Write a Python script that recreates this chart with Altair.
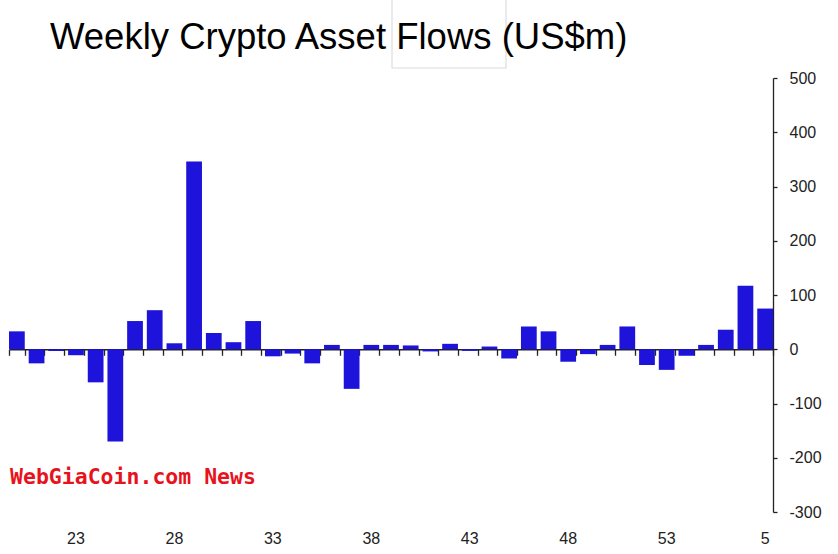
import altair as alt
import pandas as pd

weeks = [str(w) for w in range(20, 54)] + ["1", "2", "3", "4", "5"]
flows = [33, -26, -3, -11, -61, -170, 52, 72, 11, 346, 30, 13, 52, -13, -8, -26, 8, -73, 8, 8,
         7, -4, 10, -3, 5, -17, 42, 33, -23, -9, 8, 42, -29, -38, -12, 8, 36, 117, 75]
tick_labels = ["23", "28", "33", "38", "43", "48", "53", "5"]
y_ticks = [-300, -200, -100, 0, 100, 200, 300, 400, 500]
title_text = "Weekly Crypto Asset Flows (US$m)"
watermark = "WebGiaCoin.com News"

df = pd.DataFrame({"week": weeks, "flow": flows})

W, H = 764, 434
BLUE = "#1d13da"
FONT = "Liberation Sans"

xscale = alt.Scale(paddingInner=0.2, paddingOuter=0)
yscale = alt.Scale(domain=[-300, 500], nice=False, zero=False)
yaxis = alt.Axis(orient="right", values=y_ticks, title=None, grid=False,
                 domainColor="#222", domainWidth=1.3, tickColor="#222", tickSize=4,
                 tickWidth=1.3, labelFont=FONT, labelFontSize=16, labelColor="#222",
                 labelPadding=12, labelExpr="toString(datum.value)")

bars = alt.Chart(df).mark_bar(color=BLUE).encode(
    x=alt.X("week:N", sort=weeks, scale=xscale,
            axis=alt.Axis(values=tick_labels, title=None, domain=False, ticks=False,
                          labelAngle=0, labelFont=FONT, labelFontSize=16, labelColor="#222",
                          labelPadding=18, grid=False)),
    y=alt.Y("flow:Q", scale=yscale, axis=yaxis),
)

zero_axis = alt.Chart(df).mark_bar(opacity=0).encode(
    x=alt.X("week:N", sort=weeks, scale=xscale,
            axis=alt.Axis(orient="bottom", offset=-H * 300 / 800, labels=False, title=None,
                          domainColor="#222", domainWidth=1.5, tickColor="#222", tickSize=6,
                          tickWidth=1.3, tickBand="extent", grid=False)),
    y=alt.Y("flow:Q", scale=yscale, axis=yaxis),
)

wm = alt.Chart(pd.DataFrame({"t": [watermark]})).mark_text(
    align="left", baseline="alphabetic", font="DejaVu Sans Mono", fontWeight="bold",
    fontSize=21.5, color="#e8121c"
).encode(text="t:N", x=alt.value(1), y=alt.value(406))

title = alt.Chart(pd.DataFrame({"t": [title_text]})).mark_text(
    align="left", baseline="alphabetic", font=FONT, fontSize=36.5, color="#000"
).encode(text="t:N", x=alt.value(41), y=alt.value(-29))

box = alt.Chart(pd.DataFrame({"a": [0]})).mark_rect(
    filled=False, stroke="#dcdcdc", strokeWidth=1.2
).encode(x=alt.value(383), x2=alt.value(497), y=alt.value(-80), y2=alt.value(-10))

chart = alt.layer(box, bars, zero_axis, wm, title).resolve_axis(x="independent").properties(
    width=W, height=H,
    autosize=alt.AutoSizeParams(type="none"),
    padding={"left": 9, "top": 78, "right": 65, "bottom": 42},
    background="white",
).configure_view(stroke=None)

chart.save("out.html", embed_options={"renderer": "svg", "actions": False})
